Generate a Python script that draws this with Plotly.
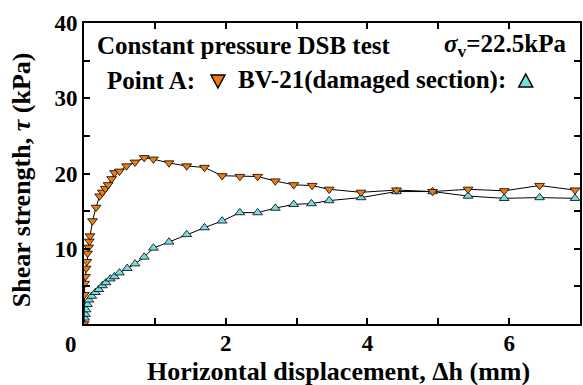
import plotly.graph_objects as go

# Point A (orange, down triangles)
a_x = [0, 0.005, 0.01, 0.02, 0.03, 0.04, 0.05, 0.065, 0.075, 0.085, 0.12, 0.17, 0.22, 0.26,
       0.30, 0.34, 0.39, 0.43, 0.50, 0.60, 0.72, 0.85, 0.98, 1.20, 1.45, 1.70, 1.95, 2.20,
       2.45, 2.70, 2.96, 3.22, 3.46, 3.91, 4.41, 4.92, 5.42, 5.93, 6.43, 6.93]
a_y = [0, 3.9, 5.4, 6.3, 7.4, 8.3, 9.4, 10.2, 11.0, 11.7, 13.7, 15.5, 17.0, 17.5,
       18.0, 18.5, 19.3, 20.1, 20.3, 21.0, 21.5, 22.1, 21.9, 21.4, 21.0, 20.8, 19.7, 19.6,
       19.6, 19.0, 18.5, 18.4, 17.9, 17.5, 17.8, 17.6, 17.9, 17.7, 18.4, 17.8]

# BV-21 damaged section (cyan, up triangles)
b_x = [0, 0.01, 0.02, 0.03, 0.05, 0.07, 0.11, 0.16, 0.21, 0.26, 0.31, 0.37, 0.43, 0.50,
       0.61, 0.72, 0.85, 0.98, 1.20, 1.45, 1.70, 1.95, 2.20, 2.45, 2.70, 2.96, 3.21, 3.46,
       3.91, 4.41, 4.92, 5.42, 5.93, 6.43, 6.93]
b_y = [0, 0.8, 1.3, 1.9, 2.6, 3.2, 3.7, 4.2, 4.6, 5.1, 5.5, 6.0, 6.3, 6.8,
       7.4, 8.0, 8.9, 10.1, 10.9, 11.9, 12.8, 13.7, 14.8, 14.8, 15.4, 15.9, 16.0, 16.4,
       16.8, 17.6, 17.6, 17.0, 16.7, 16.8, 16.7]

x_tick_vals = [0, 1, 2, 3, 4, 5, 6, 7]
x_tick_text = ["", "", "2", "", "4", "", "6", ""]
y_tick_vals = [0, 5, 10, 15, 20, 25, 30, 35, 40]
y_tick_text = ["", "", "10", "", "20", "", "30", "", "40"]

ORANGE = "#EE7C0E"
CYAN = "#78DCE0"
FONT = "Liberation Serif"

fig = go.Figure()
fig.add_trace(go.Scatter(x=b_x, y=b_y, mode="lines+markers",
                         line=dict(color="black", width=1),
                         marker=dict(symbol="triangle-up", size=8.5, color=CYAN,
                                     line=dict(color="black", width=0.8)),
                         showlegend=False))
fig.add_trace(go.Scatter(x=a_x, y=a_y, mode="lines+markers",
                         line=dict(color="black", width=1),
                         marker=dict(symbol="triangle-down", size=8.5, color=ORANGE,
                                     line=dict(color="black", width=0.8)),
                         showlegend=False))

axis_common = dict(showgrid=False, zeroline=False, showline=True, linecolor="black",
                   linewidth=2, mirror="ticks", ticks="inside", tickcolor="black",
                   tickwidth=2, ticklen=6,
                   tickfont=dict(family=FONT, size=23, color="black", weight="bold"))

fig.update_xaxes(range=[0, 7], tickmode="array", tickvals=x_tick_vals,
                 ticktext=x_tick_text, ticklabelstandoff=-3, **axis_common)
fig.update_yaxes(range=[0, 40], tickmode="array", tickvals=y_tick_vals,
                 ticktext=y_tick_text, **axis_common)


def px(xp):
    return (xp - 84) / (582 - 84)


def py(yp):
    return (324 - yp) / (324 - 23)


bold = dict(family=FONT, size=25, color="black", weight="bold")
big = dict(family=FONT, size=26, color="black", weight="bold")
fig.add_annotation(text="0", xref="paper", yref="paper", x=px(71), y=py(345),
                   xanchor="center", yanchor="middle", showarrow=False,
                   font=dict(family=FONT, size=23, color="black", weight="bold"))
fig.add_annotation(text="Horizontal displacement, Δh (mm)", xref="paper", yref="paper",
                   x=px(340), y=py(371), xanchor="center", yanchor="middle", showarrow=False,
                   font=big)
fig.add_annotation(text="Shear strength, <i>τ</i> (kPa)", xref="paper", yref="paper",
                   x=px(21), y=py(180), xanchor="center", yanchor="middle", textangle=-90,
                   showarrow=False, font=big)
fig.add_annotation(text="Constant pressure DSB test", xref="paper", yref="paper",
                   x=px(95), y=py(46), xanchor="left", yanchor="middle", showarrow=False,
                   font=bold)
fig.add_annotation(text="<i>σ</i><sub>v</sub>=22.5kPa", xref="paper", yref="paper",
                   x=px(570), y=py(46), xanchor="right", yanchor="middle", showarrow=False,
                   font=bold)
fig.add_annotation(text="Point A:", xref="paper", yref="paper",
                   x=px(105), y=py(80), xanchor="left", yanchor="middle", showarrow=False,
                   font=bold)
fig.add_annotation(text="BV-21(damaged section):", xref="paper", yref="paper",
                   x=px(237), y=py(80), xanchor="left", yanchor="middle", showarrow=False,
                   font=bold)

# legend triangles (paper coords)
cx, cy = 218.5, 81
fig.add_shape(type="path", xref="paper", yref="paper",
              path=f"M {px(cx-7)} {py(cy-6)} L {px(cx+7)} {py(cy-6)} L {px(cx)} {py(cy+7)} Z",
              fillcolor=ORANGE, line=dict(color="black", width=1.5))
cx, cy = 527.5, 81
fig.add_shape(type="path", xref="paper", yref="paper",
              path=f"M {px(cx-7)} {py(cy+6)} L {px(cx+7)} {py(cy+6)} L {px(cx)} {py(cy-7)} Z",
              fillcolor=CYAN, line=dict(color="black", width=1.5))

fig.update_layout(width=583, height=385, margin=dict(l=84, r=1, t=23, b=61),
                  plot_bgcolor="white", paper_bgcolor="white",
                  font=dict(family=FONT, color="black"))

fig.write_html("out.html")
